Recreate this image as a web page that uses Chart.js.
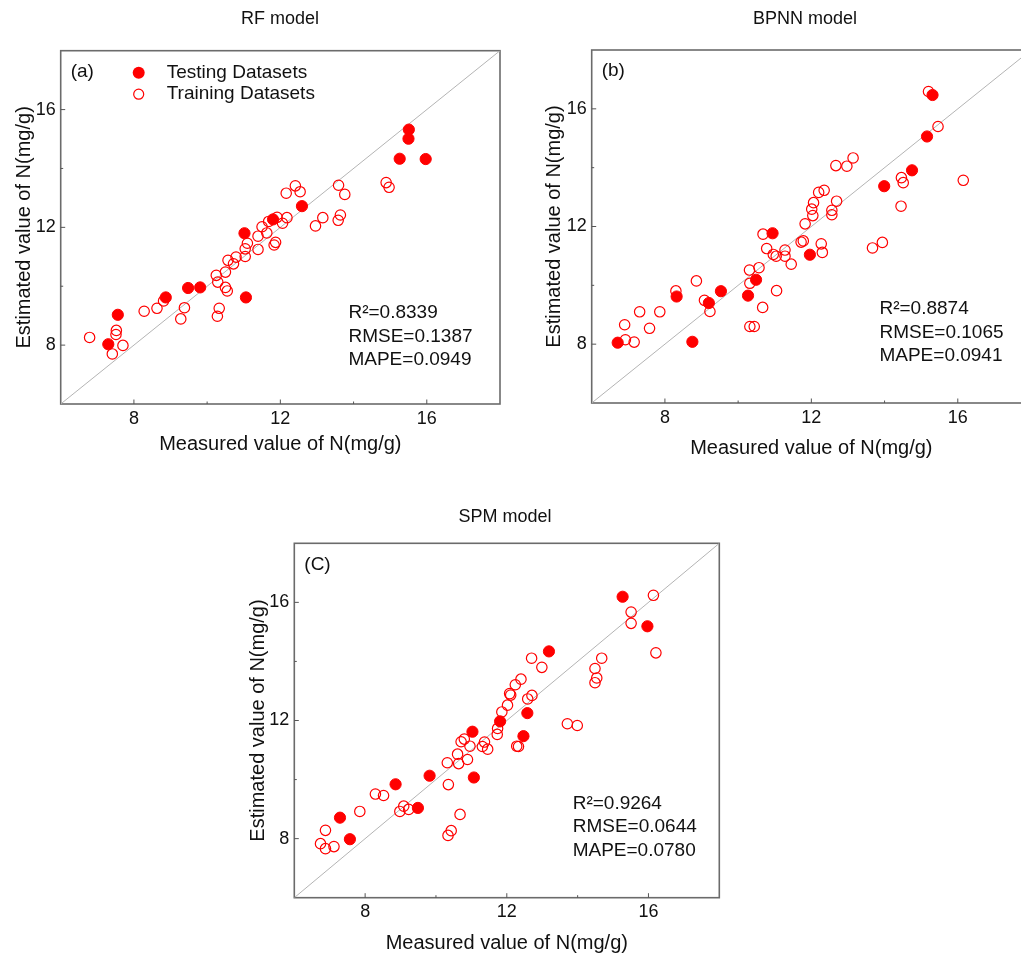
<!DOCTYPE html>
<html>
<head>
<meta charset="utf-8">
<title>Measured vs estimated N</title>
<script src="https://cdn.jsdelivr.net/npm/chart.js@4.4.0/dist/chart.umd.min.js"></script>
<style>
  html, body { margin: 0; padding: 0; background: #fff; overflow: hidden; width: 1021px; height: 953px; }
  canvas { position: absolute; }
</style>
</head>
<body>
<canvas id="chartA" width="520" height="470" style="left:0;top:0"></canvas>
<canvas id="chartB" width="530" height="470" style="left:520px;top:0"></canvas>
<canvas id="chartC" width="540" height="470" style="left:230px;top:490px"></canvas>

<script>
// ── data ─────────────────────────────────────────────────────────────────────
const axisMin = 6;
const axisMax = 18;
const majorTicks = [8, 12, 16];
const minorTicks = [10, 14];

// RF model
const rfTestX = [7.30, 7.56, 8.87, 9.48, 9.81, 11.06, 11.02, 11.80, 12.59, 15.26, 15.97, 15.50, 15.51];
const rfTestY = [8.03, 9.03, 9.62, 9.94, 9.96, 9.62, 11.80, 12.27, 12.72, 14.33, 14.32, 15.01, 15.32];
const rfTrainX = [6.79, 7.41, 7.52, 7.51, 7.70, 8.28, 8.63, 8.81, 9.28, 9.38, 10.28, 10.33, 10.25, 10.29,
  10.50, 10.55, 10.50, 10.57, 10.72, 10.79, 11.04, 11.04, 11.10, 11.39, 11.39, 11.50, 11.63, 11.68,
  11.83, 11.87, 11.91, 12.06, 12.18, 12.16, 12.41, 12.54, 12.96, 13.16, 13.58, 13.64, 13.59, 13.76,
  14.89, 14.97];
const rfTrainY = [8.26, 7.70, 8.50, 8.36, 7.99, 9.15, 9.25, 9.50, 8.89, 9.27, 8.98, 9.25, 10.37, 10.14,
  9.96, 9.84, 10.48, 10.88, 10.76, 10.99, 11.01, 11.27, 11.46, 11.25, 11.70, 12.02, 11.81, 12.20,
  11.40, 11.49, 12.34, 12.14, 12.33, 13.16, 13.41, 13.21, 12.05, 12.33, 12.24, 12.42, 13.43, 13.12,
  13.52, 13.36];

// BPNN model
const bpTestX = [6.71, 8.75, 8.32, 9.20, 9.53, 10.27, 10.49, 10.94, 11.96, 13.99, 14.75, 15.16, 15.31];
const bpTestY = [8.05, 8.08, 9.62, 9.40, 9.80, 9.65, 10.19, 11.77, 11.04, 13.37, 13.91, 15.06, 16.47];
const bpTrainX = [6.92, 7.16, 6.90, 7.31, 7.58, 7.86, 8.30, 8.86, 9.08, 9.23, 10.32, 10.44, 10.67, 10.32,
  10.31, 10.57, 10.68, 10.78, 10.96, 11.04, 11.05, 11.28, 11.28, 11.45, 11.72, 11.78, 11.83, 12.04,
  12.01, 12.06, 12.20, 12.35, 12.27, 12.30, 12.56, 12.56, 12.69, 12.67, 12.97, 13.14, 13.67, 13.94,
  14.45, 14.46, 14.51, 15.20, 15.46, 16.15];
const bpTrainY = [8.15, 8.07, 8.66, 9.10, 8.54, 9.10, 9.81, 10.15, 9.49, 9.11, 8.60, 8.60, 9.25, 10.07,
  10.52, 10.60, 11.74, 11.25, 11.05, 10.99, 9.82, 11.20, 10.99, 10.72, 11.47, 11.51, 12.09, 12.37,
  12.59, 12.81, 13.16, 13.23, 11.41, 11.12, 12.40, 12.55, 12.86, 14.07, 14.05, 14.33, 11.27, 11.46,
  12.69, 13.66, 13.49, 16.59, 15.40, 13.57];

// SPM model
const spTestX = [7.29, 7.57, 8.86, 9.49, 9.82, 11.07, 11.03, 11.81, 12.47, 12.58, 13.19, 15.27, 15.97];
const spTestY = [8.71, 7.98, 9.84, 9.04, 10.13, 10.07, 11.62, 11.97, 11.47, 12.25, 14.34, 16.19, 15.19];
const spTrainX = [6.74, 6.88, 6.88, 7.12, 7.85, 8.29, 8.52, 8.98, 9.09, 9.23, 10.34, 10.43, 10.68, 10.35,
  10.32, 10.64, 10.61, 10.89, 10.71, 10.80, 10.96, 11.31, 11.37, 11.46, 11.73, 11.74, 11.86, 12.02,
  12.08, 12.11, 12.24, 12.28, 12.33, 12.40, 12.59, 12.71, 12.70, 12.99, 13.71, 13.99, 14.49, 14.54,
  14.49, 14.68, 15.51, 15.51, 16.14, 16.21];
const spTrainY = [7.83, 7.66, 8.28, 7.73, 8.92, 9.51, 9.46, 8.92, 9.10, 8.99, 8.11, 8.27, 8.82, 9.83,
  10.57, 10.54, 10.86, 10.68, 11.28, 11.37, 11.13, 11.12, 11.27, 11.03, 11.53, 11.73, 12.29, 12.52,
  12.91, 12.86, 13.21, 11.13, 11.12, 13.40, 12.73, 12.85, 14.11, 13.80, 11.89, 11.83, 13.76, 13.44,
  13.28, 14.11, 15.67, 15.29, 16.24, 14.29];

const panelTitles = ['RF model', 'BPNN model', 'SPM model'];
const panelTags = ['(a)', '(b)', '(C)'];
const r2Values = ['0.8339', '0.8874', '0.9264'];
const rmseValues = ['0.1387', '0.1065', '0.0644'];
const mapeValues = ['0.0949', '0.0941', '0.0780'];
const legendLabels = ['Testing Datasets', 'Training Datasets'];
const xTitle = 'Measured value of N(mg/g)';
const yTitle = 'Estimated value of N(mg/g)';

// ── styling ──────────────────────────────────────────────────────────────────
const FONT = "'Liberation Sans', Arial, Helvetica, sans-serif";
const RED = '#ff0000';
const INK = '#111';
Chart.defaults.font.family = FONT;

const toPoints = (xs, ys) => xs.map((x, i) => ({ x, y: ys[i] }));

// frame, inward ticks, title, tag, stats and (optional) legend
const panelDecor = {
  id: 'panelDecor',
  beforeDatasetsDraw(chart, args, o) {
    const { ctx, chartArea: a, scales: { x, y } } = chart;
    ctx.save();
    ctx.strokeStyle = '#6b6b6b';
    ctx.lineWidth = 1.6;
    ctx.strokeRect(a.left, a.top, a.right - a.left, a.bottom - a.top);
    ctx.strokeStyle = '#555';
    ctx.lineWidth = 1;
    ctx.beginPath();
    const tick = (v, len) => {
      const px = x.getPixelForValue(v), py = y.getPixelForValue(v);
      ctx.moveTo(px, a.bottom); ctx.lineTo(px, a.bottom - len);
      ctx.moveTo(a.left, py); ctx.lineTo(a.left + len, py);
    };
    majorTicks.forEach(v => tick(v, 4.5));
    minorTicks.forEach(v => tick(v, 2.5));
    ctx.stroke();
    ctx.restore();
  },
  afterDatasetsDraw(chart, args, o) {
    const { ctx, chartArea: a } = chart;
    const w = a.right - a.left;
    ctx.save();
    ctx.fillStyle = INK;
    ctx.textBaseline = 'middle';

    ctx.font = `18px ${FONT}`;
    ctx.textAlign = 'center';
    ctx.fillText(o.title, o.titleX, o.titleY);

    ctx.font = `19px ${FONT}`;
    ctx.textAlign = 'left';
    ctx.fillText(o.tag, a.left + 10, a.top + 21);

    o.stats.forEach((s, i) => ctx.fillText(s, a.left + 0.655 * w, a.bottom - o.statsUp + i * 23.5));

    if (o.legend) {
      const mx = a.left + 78, tx = a.left + 106;
      const rows = [a.top + 22, a.top + 43.5];
      ctx.fillStyle = INK;
      ctx.fillText(legendLabels[0], tx, rows[0]);
      ctx.fillText(legendLabels[1], tx, rows[1]);
      ctx.beginPath();
      ctx.arc(mx, rows[0], 6, 0, Math.PI * 2);
      ctx.fillStyle = RED;
      ctx.fill();
      ctx.beginPath();
      ctx.arc(mx, rows[1], 5, 0, Math.PI * 2);
      ctx.strokeStyle = RED;
      ctx.lineWidth = 1.2;
      ctx.stroke();
    }
    ctx.restore();
  }
};

function makePanel(canvasId, i, testX, testY, trainX, trainY, box) {
  const tickFont = { size: 18 };
  return new Chart(document.getElementById(canvasId), {
    type: 'scatter',
    data: {
      datasets: [
        {
          label: legendLabels[0],
          data: toPoints(testX, testY),
          pointRadius: 5.6,
          pointBackgroundColor: RED,
          pointBorderColor: RED,
          pointBorderWidth: 1,
        },
        {
          label: legendLabels[1],
          data: toPoints(trainX, trainY),
          pointRadius: 5.2,
          pointBackgroundColor: 'rgba(0,0,0,0)',
          pointBorderColor: RED,
          pointBorderWidth: 1.2,
        },
        {
          label: '1:1',
          data: [{ x: axisMin, y: axisMin }, { x: axisMax, y: axisMax }],
          showLine: true,
          borderColor: '#b4b4b4',
          borderWidth: 1,
          pointRadius: 0,
        }
      ]
    },
    options: {
      responsive: false,
      animation: false,
      events: [],
      layout: { padding: { top: box.top, right: box.right, left: 0, bottom: 0 } },
      scales: {
        x: {
          type: 'linear',
          min: axisMin, max: axisMax,
          grid: { display: false, drawTicks: false },
          border: { display: false },
          afterBuildTicks: s => { s.ticks = majorTicks.map(v => ({ value: v })); },
          afterFit: s => { s.height = box.xH; },
          ticks: { font: tickFont, color: INK, padding: 4 },
          title: { display: true, text: xTitle, color: INK, font: { size: 20 }, padding: { top: 0, bottom: box.xtPad } }
        },
        y: {
          type: 'linear',
          min: axisMin, max: axisMax,
          grid: { display: false, drawTicks: false },
          border: { display: false },
          afterBuildTicks: s => { s.ticks = majorTicks.map(v => ({ value: v })); },
          afterFit: s => { s.width = box.yW; },
          ticks: { font: tickFont, color: INK, padding: 5 },
          title: { display: true, text: yTitle, color: INK, font: { size: 20 }, padding: { top: box.ytPad, bottom: 0 } }
        }
      },
      plugins: {
        legend: { display: false },
        tooltip: { enabled: false },
        panelDecor: {
          title: panelTitles[i],
          titleX: box.titleX,
          titleY: box.titleY,
          statsUp: box.statsUp,
          tag: panelTags[i],
          stats: [`R²=${r2Values[i]}`, `RMSE=${rmseValues[i]}`, `MAPE=${mapeValues[i]}`],
          legend: i === 0,
        }
      }
    },
    plugins: [panelDecor]
  });
}

makePanel('chartA', 0, rfTestX, rfTestY, rfTrainX, rfTrainY,
  { top: 50.7, right: 20, yW: 60.7, xH: 66, xtPad: 14, ytPad: 12.5, titleX: 280, titleY: 19, statsUp: 91 });
makePanel('chartB', 1, bpTestX, bpTestY, bpTrainX, bpTrainY,
  { top: 50, right: 19, yW: 71.7, xH: 67, xtPad: 10, ytPad: 22.5, titleX: 285, titleY: 19, statsUp: 94 });
makePanel('chartC', 2, spTestX, spTestY, spTrainX, spTrainY,
  { top: 53.3, right: 50.7, yW: 64.3, xH: 62.3, xtPad: 4.5, ytPad: 16, titleX: 275, titleY: 27, statsUp: 94 });
</script>
</body>
</html>
